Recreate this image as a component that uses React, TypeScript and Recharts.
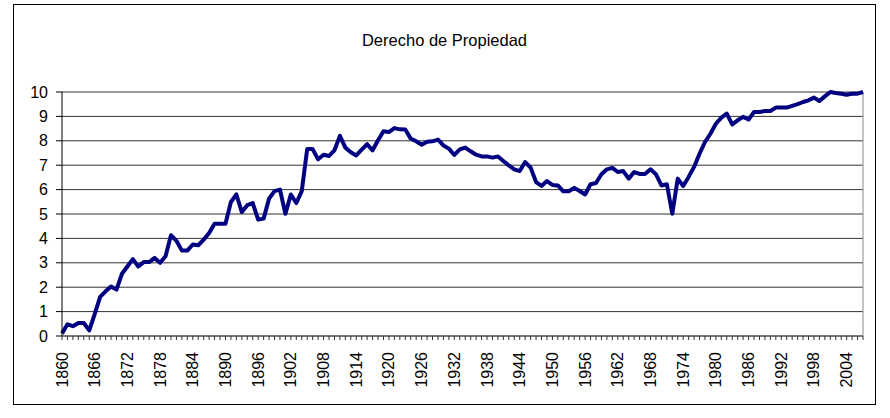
import React from 'react';
import { LineChart, Line, XAxis, YAxis, CartesianGrid, ReferenceLine } from 'recharts';

const FONT = '"Liberation Sans", Arial, sans-serif';

const title = 'Derecho de Propiedad';
const firstYear = 1860;

// Índice de derecho de propiedad, 1860–2007
const propertyRights = [
  0.1, 0.48, 0.4, 0.53, 0.53, 0.23, 0.9, 1.6, 1.83, 2.03, // 1860-1869
  1.9, 2.55, 2.85, 3.15, 2.85, 3.03, 3.03, 3.2, 3.0, 3.27, // 1870-1879
  4.13, 3.9, 3.5, 3.5, 3.75, 3.72, 3.95, 4.22, 4.6, 4.6, // 1880-1889
  4.6, 5.49, 5.8, 5.08, 5.36, 5.45, 4.77, 4.81, 5.63, 5.94, // 1890-1899
  6.0, 5.01, 5.8, 5.45, 5.94, 7.66, 7.66, 7.24, 7.43, 7.38, // 1900-1909
  7.61, 8.2, 7.72, 7.53, 7.4, 7.64, 7.86, 7.61, 8.02, 8.39, // 1910-1919
  8.36, 8.52, 8.47, 8.46, 8.09, 7.98, 7.84, 7.96, 7.98, 8.05, // 1920-1929
  7.81, 7.68, 7.42, 7.65, 7.72, 7.57, 7.43, 7.36, 7.36, 7.31, // 1930-1939
  7.36, 7.17, 6.99, 6.83, 6.76, 7.13, 6.9, 6.31, 6.15, 6.35, // 1940-1949
  6.19, 6.17, 5.93, 5.93, 6.07, 5.94, 5.8, 6.22, 6.27, 6.63, // 1950-1959
  6.83, 6.89, 6.72, 6.76, 6.45, 6.72, 6.64, 6.64, 6.83, 6.63, // 1960-1969
  6.17, 6.22, 5.01, 6.45, 6.15, 6.52, 6.93, 7.47, 7.95, 8.29, // 1970-1979
  8.7, 8.95, 9.11, 8.67, 8.84, 8.98, 8.87, 9.18, 9.18, 9.22, // 1980-1989
  9.22, 9.36, 9.36, 9.36, 9.43, 9.5, 9.59, 9.66, 9.77, 9.63, // 1990-1999
  9.82, 10.0, 9.96, 9.93, 9.89, 9.93, 9.93, 10.0, // 2000-2007
];

const years = propertyRights.map((_, i) => firstYear + i);

const xLabelYears = [
  1860, 1866, 1872, 1878, 1884, 1890, 1896, 1902, 1908, 1914, 1920, 1926, 1932,
  1938, 1944, 1950, 1956, 1962, 1968, 1974, 1980, 1986, 1992, 1998, 2004,
];

const yTicks = [0, 1, 2, 3, 4, 5, 6, 7, 8, 9, 10];

const data = years.map((year, i) => ({ year, value: propertyRights[i] }));

const XTick = (props: any) => {
  const { x, y, payload } = props;
  const yr = payload.value;
  if (!xLabelYears.includes(yr)) return <g />;
  return (
    <text
      x={x}
      y={y}
      transform={`rotate(-90, ${x}, ${y})`}
      textAnchor="end"
      dominantBaseline="central"
      fontSize={16}
      fill="#000"
      fontFamily={FONT}
    >
      {yr}
    </text>
  );
};

export default function App() {
  return (
    <div style={{ position: 'absolute', left: 0, top: 0, width: 890, height: 418, background: '#fff' }}>
      <div
        style={{
          position: 'absolute',
          left: 13,
          top: 4,
          width: 863,
          height: 401,
          border: '1px solid #000',
          boxSizing: 'border-box',
        }}
      />
      <div
        style={{
          position: 'absolute',
          left: 13,
          width: 863,
          top: 31,
          textAlign: 'center',
          fontFamily: FONT,
          fontSize: 16.5,
          color: '#000',
        }}
      >
        {title}
      </div>
      <div style={{ position: 'absolute', left: 0, top: 0 }}>
        <LineChart
          width={890}
          height={418}
          data={data}
          margin={{ top: 92, right: 27, bottom: 0, left: 22 }}
        >
          <CartesianGrid vertical={false} stroke="#333" strokeWidth={1} />
          <XAxis
            dataKey="year"
            type="number"
            domain={[firstYear, years[years.length - 1]]}
            ticks={years}
            interval={0}
            height={82}
            tickSize={4}
            tickMargin={12}
            tick={<XTick />}
            axisLine={{ stroke: '#555' }}
            tickLine={{ stroke: '#333' }}
          />
          <YAxis
            type="number"
            domain={[0, 10]}
            ticks={yTicks}
            interval={0}
            width={40}
            tickSize={6}
            tickMargin={8}
            tick={{ fontSize: 16, fill: '#000', fontFamily: FONT }}
            axisLine={{ stroke: '#000' }}
            tickLine={{ stroke: '#000' }}
          />
          <ReferenceLine x={years[years.length - 1]} stroke="#888" />
          <Line
            type="linear"
            dataKey="value"
            stroke="#000080"
            strokeWidth={4}
            strokeLinejoin="round"
            dot={false}
            isAnimationActive={false}
          />
        </LineChart>
      </div>
    </div>
  );
}
